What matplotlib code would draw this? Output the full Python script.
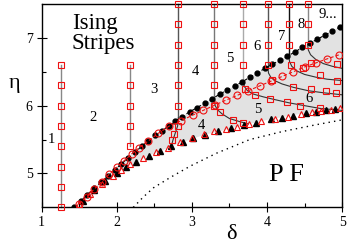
import numpy as np
import matplotlib
matplotlib.use('Agg')
import matplotlib.pyplot as plt

plt.rcParams['font.family'] = ['Liberation Serif', 'DejaVu Serif']

# upper boundary of the intermediate phase (black dots)
up_d = [1.43, 1.52, 1.61, 1.70, 1.79, 1.88, 1.97, 2.06, 2.15, 2.24, 2.33, 2.42, 2.51,
        2.60, 2.69, 2.78, 2.87, 2.97, 3.07, 3.17, 3.27, 3.37, 3.47, 3.57, 3.67, 3.77,
        3.87, 3.97, 4.07, 4.17, 4.27, 4.37, 4.47, 4.57, 4.67, 4.77, 4.87, 4.97]
up_e = [4.50, 4.59, 4.69, 4.78, 4.87, 4.96, 5.05, 5.14, 5.23, 5.31, 5.40, 5.48, 5.56,
        5.63, 5.70, 5.77, 5.84, 5.91, 5.97, 6.04, 6.10, 6.17, 6.23, 6.29, 6.35, 6.42,
        6.48, 6.55, 6.61, 6.67, 6.73, 6.79, 6.86, 6.92, 6.98, 7.04, 7.10, 7.16]

# red open circles
rc_d = [1.50, 1.60, 1.70, 1.80, 1.90, 2.00, 2.10, 2.20, 2.30, 2.42, 2.55, 2.70, 2.86,
        3.01, 3.15, 3.31, 3.45, 3.60, 3.75, 3.90, 4.05, 4.20, 4.35, 4.50, 4.65, 4.80, 4.96]
rc_e = [4.55, 4.66, 4.77, 4.88, 4.99, 5.09, 5.19, 5.29, 5.38, 5.48, 5.59, 5.70, 5.78,
        5.86, 5.93, 6.01, 6.08, 6.15, 6.22, 6.29, 6.36, 6.43, 6.50, 6.57, 6.63, 6.69, 6.75]

# lower boundary (triangles)
bt_d = [1.55, 1.70, 1.85, 2.00, 2.12, 2.26, 2.43, 2.58, 2.72, 2.88, 3.02, 3.17, 3.35,
        3.52, 3.70, 3.85, 4.05, 4.20, 4.35, 4.52, 4.65, 4.78, 4.90]
bt_e = [4.60, 4.75, 4.89, 5.01, 5.09, 5.17, 5.26, 5.33, 5.40, 5.47, 5.52, 5.57, 5.62,
        5.67, 5.71, 5.75, 5.80, 5.82, 5.85, 5.89, 5.91, 5.93, 5.95]
rt_d = [1.50, 1.65, 1.80, 1.95, 2.05, 2.18, 2.35, 2.52, 2.68, 2.84, 3.00, 3.16, 3.30,
        3.45, 3.60, 3.76, 3.92, 4.10, 4.28, 4.45, 4.60, 4.72, 4.85, 4.97]
rt_e = [4.55, 4.70, 4.84, 4.97, 5.05, 5.14, 5.23, 5.31, 5.38, 5.46, 5.53, 5.58, 5.62,
        5.65, 5.69, 5.73, 5.77, 5.81, 5.84, 5.88, 5.91, 5.92, 5.94, 5.96]
low_d = [1.43, 1.55, 1.70, 1.85, 2.00, 2.20, 2.40, 2.60, 2.80, 3.00, 3.20, 3.40, 3.60,
         3.80, 4.00, 4.20, 4.40, 4.60, 4.80, 5.00]
low_e = [4.50, 4.60, 4.75, 4.89, 5.01, 5.14, 5.25, 5.34, 5.43, 5.51, 5.58, 5.63, 5.69,
         5.74, 5.79, 5.83, 5.87, 5.90, 5.93, 5.96]

# dotted curve
dot_d = [2.22, 2.35, 2.49, 2.71, 2.98, 3.33, 3.77, 4.21, 4.66, 5.00]
dot_e = [4.50, 4.65, 4.79, 4.94, 5.11, 5.30, 5.50, 5.62, 5.72, 5.79]

# vertical n|n+1 boundaries in the Ising stripe phase
vlines = [
    (1.26, 4.50, 6.60, [4.5, 4.8, 5.1, 5.4, 5.7, 6.0, 6.3, 6.6], '#888888'),
    (2.18, 5.40, 6.60, [5.4, 5.7, 6.0, 6.3, 6.6], '#888888'),
    (2.82, 5.82, 7.50, [5.7, 6.0, 6.3, 6.6, 6.9, 7.2, 7.5], '#555555'),
    (3.30, 6.08, 7.50, [6.0, 6.3, 6.6, 6.9, 7.2, 7.5], '#777777'),
    (3.68, 6.36, 7.50, [6.6, 6.9, 7.2, 7.5], '#aaaaaa'),
    (4.01, 6.57, 7.50, [6.6, 6.9, 7.2, 7.5], '#555555'),
    (4.29, 6.74, 7.50, [6.9, 7.2, 7.5], '#111111'),
    (4.54, 6.90, 7.50, [6.9, 7.2, 7.5], '#888888'),
]

# boundaries inside the intermediate phase
curves = [
    ([2.82, 2.81, 2.78, 2.75, 2.73], [5.82, 5.70, 5.60, 5.50, 5.42]),
    ([3.30, 3.31, 3.34, 3.40, 3.50, 3.62, 3.75], [6.08, 6.00, 5.94, 5.88, 5.81, 5.77, 5.73]),
    ([3.68, 3.70, 3.74, 3.82, 3.95, 4.10, 4.30, 4.50, 4.70, 4.90, 5.00],
     [6.36, 6.28, 6.22, 6.17, 6.13, 6.09, 6.04, 6.00, 5.96, 5.94, 5.93]),
    ([4.01, 4.02, 4.05, 4.10, 4.20, 4.35, 4.55, 4.75, 5.00],
     [6.57, 6.48, 6.42, 6.37, 6.32, 6.27, 6.22, 6.19, 6.16]),
    ([4.29, 4.30, 4.33, 4.40, 4.50, 4.65, 4.80, 5.00],
     [6.74, 6.65, 6.58, 6.51, 6.46, 6.42, 6.39, 6.37]),
    ([4.54, 4.55, 4.58, 4.65, 4.75, 4.87, 5.00],
     [6.90, 6.82, 6.75, 6.68, 6.62, 6.58, 6.55]),
]
sq_d = [2.76, 2.74, 3.38, 3.55, 3.68, 3.71, 3.84, 4.04, 4.26, 4.44, 4.70, 4.06, 4.35,
        4.58, 4.79, 4.92, 4.32, 4.48, 4.70, 4.93, 4.59, 4.93]
sq_e = [5.58, 5.50, 5.91, 5.79, 5.75, 6.24, 6.16, 6.10, 6.05, 6.00, 5.96, 6.38, 6.28,
        6.24, 6.21, 6.18, 6.60, 6.55, 6.45, 6.37, 6.63, 6.62]

labels = [('1', 1.13, 5.50), ('2', 1.69, 5.82), ('3', 2.50, 6.24), ('4', 3.05, 6.50),
          ('5', 3.51, 6.70), ('6', 3.87, 6.87), ('7', 4.20, 7.02), ('8', 4.46, 7.19)]
glabels = [('4', 3.12, 5.71), ('5', 3.88, 5.94), ('6', 4.56, 6.10)]

red = '#ee1111'
fig = plt.figure(figsize=(3.47, 2.44), dpi=100)
ax = fig.add_axes([0.120, 0.150, 0.866, 0.834])

ax.fill(up_d + [5.0, 5.0] + low_d[::-1], up_e + [7.2, 5.96] + low_e[::-1],
        color='#e2e2e2', lw=0, zorder=0)
ax.plot(dot_d, dot_e, ls=(0, (1, 3)), color='k', lw=1.0)

for d, e0, e1, sq, c in vlines:
    ax.plot([d, d], [e0, e1], color=c, lw=1.0, zorder=2, clip_on=False)
    ax.plot([d] * len(sq), sq, 's', ms=3.7, mfc='none', mec=red, mew=0.8, zorder=4,
            clip_on=False)
for cd, ce in curves:
    ax.plot(cd, ce, color='#333333', lw=0.8, zorder=2)
ax.plot(sq_d, sq_e, 's', ms=3.7, mfc='none', mec=red, mew=0.8, zorder=4)

ax.plot(up_d, up_e, 'o', ls=(0, (3, 3)), color='k', ms=3.5, lw=0.8, zorder=3)
ax.plot(rc_d, rc_e, 'o', ls=(0, (3, 2)), color=red, mfc='none', ms=5, mew=0.8, lw=0.8,
        zorder=4)
ax.plot(bt_d, bt_e, '^', color='k', ms=4, ls='none', zorder=3)
ax.plot(rt_d, rt_e, '^', mfc='none', mec=red, mew=0.8, ms=5, ls='none', zorder=4)

ax.text(1.40, 7.36, 'Ising\nStripes', fontsize=16.5, ha='left', va='top', linespacing=0.9)
ax.text(4.26, 4.98, 'P F', fontsize=19, ha='center', va='center')
for t, x, y in labels:
    ax.text(x, y, t, fontsize=10.5, ha='center', va='center')
ax.text(4.68, 7.34, '9...', fontsize=10.5, ha='left', va='center')
for t, x, y in glabels:
    ax.text(x, y, t, fontsize=10.5, ha='center', va='center')

ax.set_xlim(1, 5)
ax.set_ylim(4.5, 7.5)
ax.set_xticks([1, 2, 3, 4, 5])
ax.set_yticks([5, 6, 7])
ax.set_xticks(np.arange(1.5, 5, 1), minor=True)
ax.set_yticks([5.5, 6.5], minor=True)
ax.tick_params(which='major', direction='inout', length=7, width=0.8, labelsize=10, pad=3)
ax.tick_params(which='minor', direction='in', length=3, width=0.8)
for s in ax.spines.values():
    s.set_linewidth(1.0)
ax.set_xlabel('δ', fontsize=16)
ax.xaxis.set_label_coords(0.63, -0.085)
ax.set_ylabel('η', fontsize=16, rotation=0, va='center', ha='center')
ax.yaxis.set_label_coords(-0.09, 0.61)

fig.savefig('out.png', dpi=100)
